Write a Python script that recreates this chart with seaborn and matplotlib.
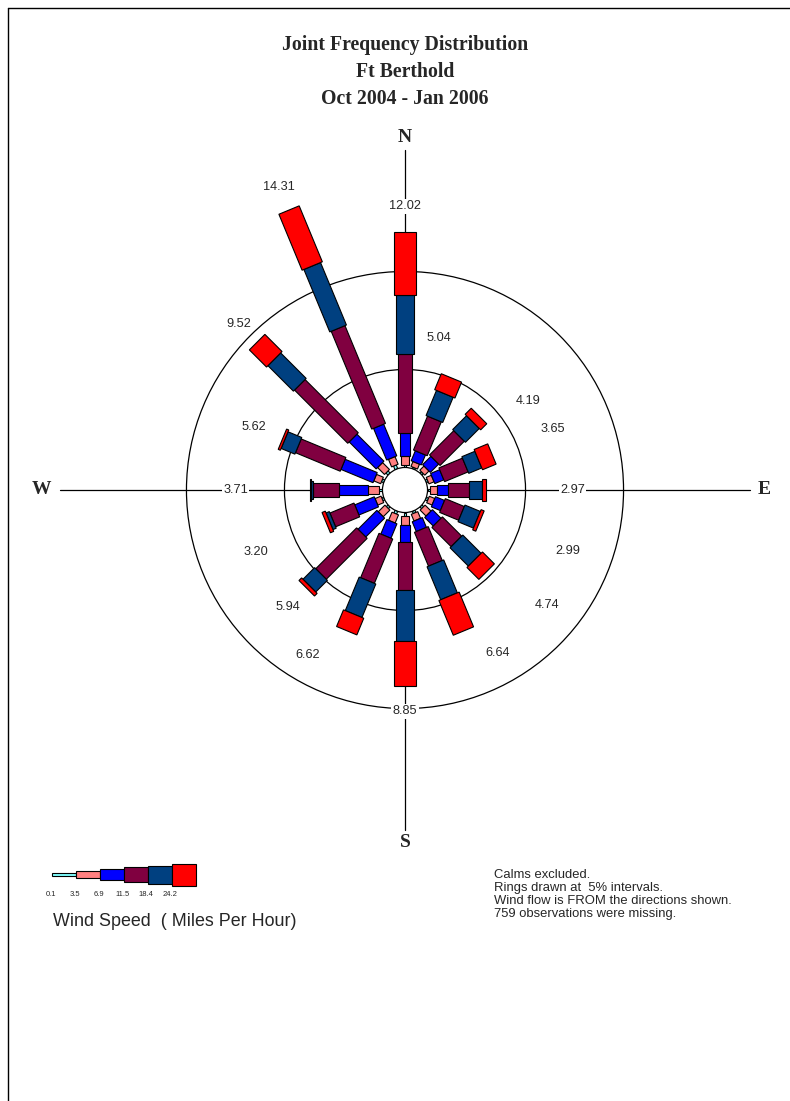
import numpy as np
import pandas as pd
import matplotlib
matplotlib.use("Agg")
import matplotlib.pyplot as plt
from matplotlib.patches import Circle
from matplotlib.lines import Line2D
from matplotlib.transforms import Affine2D
import seaborn as sns

# ---------------------------------------------------------------- data
directions = ["N", "NNE", "NE", "ENE", "E", "ESE", "SE", "SSE",
              "S", "SSW", "SW", "WSW", "W", "WNW", "NW", "NNW"]

# percent of observations per wind-speed class (mph) and direction
speed_0_1 = [0.15, 0.08, 0.10, 0.10, 0.15, 0.12, 0.12, 0.12,
             0.20, 0.15, 0.12, 0.10, 0.20, 0.12, 0.15, 0.20]
speed_3_5 = [0.45, 0.27, 0.30, 0.28, 0.35, 0.30, 0.43, 0.37,
             0.42, 0.45, 0.48, 0.33, 0.55, 0.38, 0.50, 0.42]
speed_6_9 = [1.15, 0.55, 0.60, 0.50, 0.55, 0.50, 0.62, 0.54,
             0.86, 0.80, 1.36, 1.08, 1.45, 1.77, 1.95, 1.75]
speed_11_5 = [4.05, 1.87, 1.75, 1.30, 1.05, 1.05, 1.39, 1.87,
              2.48, 2.45, 2.95, 1.33, 1.34, 2.47, 3.84, 5.40]
speed_18_4 = [3.00, 1.39, 1.00, 0.72, 0.70, 0.85, 1.32, 1.82,
              2.58, 1.85, 0.84, 0.18, 0.12, 0.76, 1.84, 3.45]
speed_24_2 = [3.22, 0.88, 0.44, 0.75, 0.17, 0.17, 0.86, 1.92,
              2.31, 0.92, 0.19, 0.18, 0.05, 0.12, 1.24, 3.09]

speed_labels = ["0.1", "3.5", "6.9", "11.5", "18.4", "24.2"]
ring_levels = [5, 10]

title_lines = ["Joint Frequency Distribution", "Ft Berthold", "Oct 2004 - Jan 2006"]
notes = ["Calms excluded.",
         "Rings drawn at  5% intervals.",
         "Wind flow is FROM the directions shown.",
         "759 observations were missing."]

# ---------------------------------------------------------------- style
sns.set_theme(style="white")
plt.rcParams["font.family"] = ["Liberation Sans", "DejaVu Sans"]

class_colors = sns.color_palette(["#80FFFF", "#FF8080", "#0000FF",
                                  "#800040", "#004080", "#FF0000"])
class_widths = [0.15, 0.36, 0.56, 0.76, 0.92, 1.12]   # bar thickness per class
calm_radius = 1.15                                     # radius of the calm circle
px_per_unit = 19.6

# total labels: sit just past the bar tip, but never closer than a minimum
# radius; some are turned a little off the bar axis to stay clear of the rings
label_pad = 1.3
label_min_radius = [7.0, 6.8, 6.6, 7.0, 7.4, 7.7, 8.2, 8.4,
                    7.0, 8.6, 7.3, 7.1, 7.5, 7.2, 7.0, 7.0]
label_turn_deg = [0, 10, -9, 0, 0, 2, 6, 7,
                  0, -8, 0, 0, 0, 0, 0, 0]

freq = pd.DataFrame({
    "0.1": speed_0_1, "3.5": speed_3_5, "6.9": speed_6_9,
    "11.5": speed_11_5, "18.4": speed_18_4, "24.2": speed_24_2,
}, index=directions)
totals = freq.sum(axis=1)

W_PX, H_PX = 790, 1101
CX, CY = 405, 490
fig = plt.figure(figsize=(W_PX / 100, H_PX / 100), dpi=100)
fig.patch.set_facecolor("white")
ax = fig.add_axes([0, 0, 1, 1])
ax.set_xlim(-CX / px_per_unit, (W_PX - CX) / px_per_unit)
ax.set_ylim(-(H_PX - CY) / px_per_unit, CY / px_per_unit)
ax.axis("off")

# page frame
fig.add_artist(Line2D([8 / W_PX, 1.0], [1 - 8 / H_PX, 1 - 8 / H_PX],
                      transform=fig.transFigure, color="black", lw=1))
fig.add_artist(Line2D([8 / W_PX, 8 / W_PX], [0, 1 - 8 / H_PX],
                      transform=fig.transFigure, color="black", lw=1))

# titles
for i, line in enumerate(title_lines):
    fig.text(CX / W_PX, 1 - (45 + 27 * i) / H_PX, line, ha="center", va="center",
             fontsize=14.2, fontweight="bold", family="Liberation Serif")

# compass cross
arm = 17.35
ax.plot([0, 0], [-arm, arm], color="black", lw=0.9, zorder=1)
ax.plot([-17.6, 17.6], [0, 0], color="black", lw=0.9, zorder=1)
compass_kw = dict(ha="center", va="center", fontsize=14, fontweight="bold",
                  family="Liberation Serif")
ax.text(0, 18.0, "N", **compass_kw)
ax.text(0, -18.0, "S", **compass_kw)
ax.text(-18.55, 0, "W", **compass_kw)
ax.text(18.3, 0, "E", **compass_kw)

# percentage rings
for lvl in ring_levels:
    ax.add_patch(Circle((0, 0), calm_radius + lvl, fill=False,
                        edgecolor="black", lw=0.9, zorder=2))

# stacked bars per direction, rotated into place
for i, d in enumerate(directions):
    vals = freq.loc[d].to_numpy()
    starts = calm_radius + np.concatenate([[0], np.cumsum(vals)[:-1]])
    angle = 90 - 22.5 * i
    tr = Affine2D().rotate_deg(angle) + ax.transData
    ax.barh(np.zeros(len(vals)), vals, left=starts, height=class_widths,
            color=class_colors, edgecolor="black", linewidth=0.8,
            transform=tr, zorder=3)

    total = totals[d]
    r_lab = calm_radius + max(total + label_pad, label_min_radius[i])
    th = np.deg2rad(angle + label_turn_deg[i])
    ax.text(r_lab * np.cos(th), r_lab * np.sin(th), f"{total:.2f}",
            ha="center", va="center", fontsize=9.2, zorder=6,
            bbox=dict(facecolor="white", edgecolor="none", pad=1.0))

# calm circle
ax.add_patch(Circle((0, 0), calm_radius, facecolor="white",
                    edgecolor="black", lw=0.9, zorder=4))

# speed-class legend
seg_len = 1.22
leg_x0 = -18.0
leg_y = -19.64
lefts = leg_x0 + seg_len * np.arange(len(speed_labels))
ax.barh(np.full(len(speed_labels), leg_y), np.full(len(speed_labels), seg_len),
        left=lefts, height=class_widths, color=class_colors,
        edgecolor="black", linewidth=0.8, zorder=3)
for x, lab in zip(lefts, speed_labels):
    ax.text(x - 0.08, leg_y - 1.02, lab, ha="center", va="center", fontsize=5.5)
ax.text(leg_x0 + 0.05, leg_y - 2.36, "Wind Speed  ( Miles Per Hour)",
        ha="left", va="center", fontsize=12.9)

# notes
for i, line in enumerate(notes):
    ax.text(4.55, (CY - 874.5 - 13 * i) / px_per_unit, line,
            ha="left", va="center", fontsize=9.4)

fig.savefig("out.png", dpi=100, facecolor="white")
